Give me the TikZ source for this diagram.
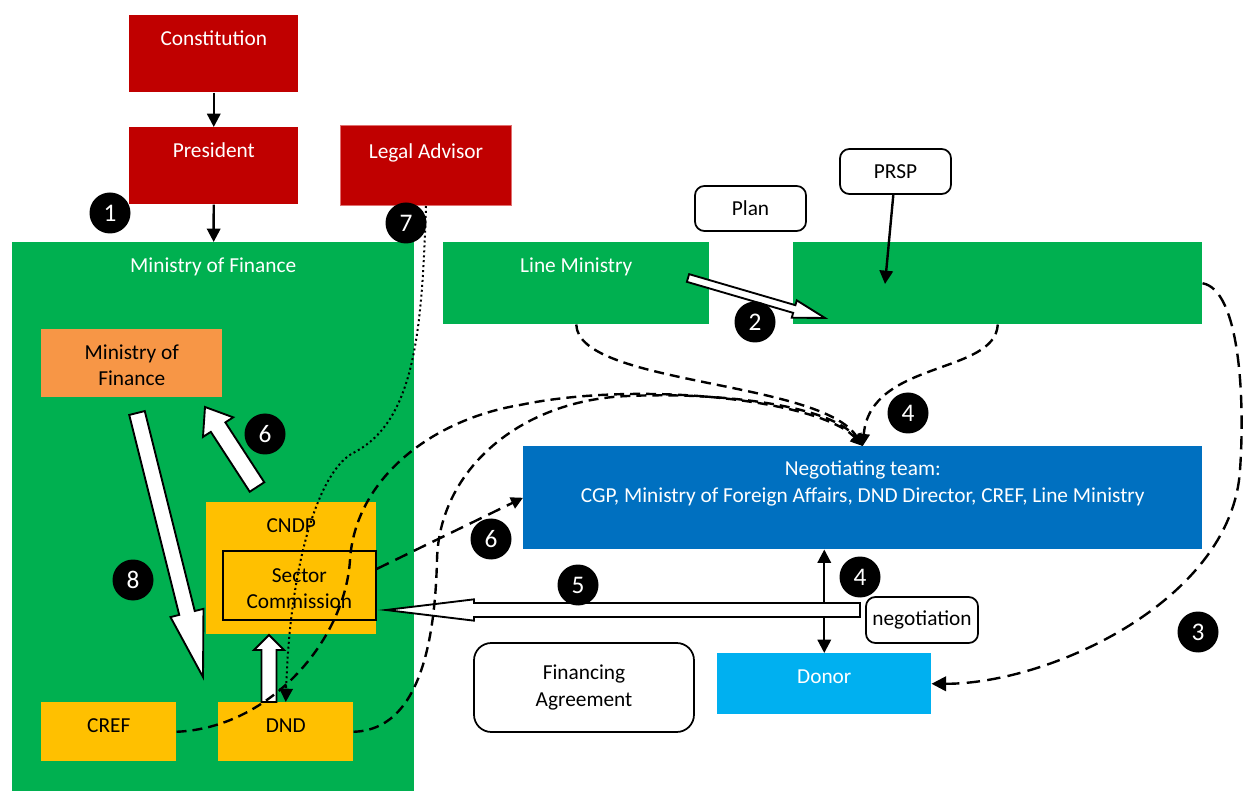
\documentclass[tikz,border=0pt]{standalone}
\usepackage{fontspec}
\setmainfont{Carlito}
\usepackage{tikz}
\usetikzlibrary{arrows.meta,calc,positioning}

\definecolor{boxred}{HTML}{C00000}
\definecolor{legalline}{HTML}{E07070}
\definecolor{boxgreen}{HTML}{00B050}
\definecolor{boxorange}{HTML}{F79646}
\definecolor{boxyellow}{HTML}{FFC000}
\definecolor{boxblue}{HTML}{0070C0}
\definecolor{boxsky}{HTML}{00B0F0}

\newcommand{\fatarrow}[5]{%
  \draw[fat] let \p1=(#1), \p2=(#2), \n1={atan2(\y2-\y1,\x2-\x1)}, \n2={veclen(\x2-\x1,\y2-\y1)-#5} in
    ($(\p1)+(\n1+90:#3)$) -- ($(\p1)+(\n1:\n2*1pt)+(\n1+90:#3)$) -- ($(\p1)+(\n1:\n2*1pt)+(\n1+90:#4)$) -- (\p2)
    -- ($(\p1)+(\n1:\n2*1pt)+(\n1-90:#4)$) -- ($(\p1)+(\n1:\n2*1pt)+(\n1-90:#3)$) -- ($(\p1)+(\n1-90:#3)$) -- cycle;}

\begin{document}
\begin{tikzpicture}[x=0.75pt,y=0.75pt,font=\fontsize{16}{19.5}\selectfont]
            \tikzstyle{box}=[rectangle, anchor=north west, inner sep=0pt, text height=22.5pt]
            \tikzstyle{note}=[rectangle, rounded corners=7pt, draw=black, line width=1.3pt, fill=white, align=center, inner sep=0pt]
            \tikzstyle{num}=[circle, fill=black, text=white, minimum size=30.75pt, inner sep=0pt, font=\fontsize{19}{22}\selectfont]
            \tikzstyle{connect}=[line width=1.8pt, -{Triangle[length=10pt,width=10pt]}]
            \tikzstyle{flow}=[line width=1.8pt, dash pattern=on 7.5pt off 4.5pt, -{Triangle[length=9pt,width=9pt]}]
            \tikzstyle{fat}=[draw=black, fill=white, line width=1.4pt, line join=miter]
            \useasboundingbox (0,0) rectangle (1243,-791);

            \node[box, fill=boxred, text=white, minimum width=126.75pt, text depth=35.25pt] (const) at (129,-15) {Constitution};
            \node[box, fill=boxred, text=white, minimum width=126.75pt, text depth=35.25pt] (pres) at (129,-127) {President};
            \node[box, fill=boxred, draw=legalline, line width=0.75pt, text=white, minimum width=128.25pt, text height=24.75pt, text depth=35.25pt] (legal) at (340,-125) {Legal Advisor};

            \node[box, fill=boxgreen, text=white, minimum width=301.5pt, text depth=389.25pt] (mof) at (12,-242) {Ministry of Finance};
            \node[box, fill=boxgreen, text=white, minimum width=199.5pt, text depth=39pt] (line) at (443,-242) {Line Ministry};
            \node[box, fill=boxgreen, minimum width=306.75pt, text depth=39pt] (sectorplan) at (793,-242) {};

            \node[box, fill=boxorange, minimum width=135.75pt, text depth=28.5pt] (mofin) at (41,-329) {\begin{tabular}[t]{@{}c@{}}Ministry of\\Finance\end{tabular}};
            \node[box, fill=boxyellow, minimum width=127.5pt, text depth=76.5pt] (cndp) at (206,-502) {CNDP};
            \node[box, fill=boxyellow, draw=black, line width=1.3pt, minimum width=114.75pt, text height=24pt, text depth=27.75pt] (sector) at (222,-550) {\begin{tabular}[t]{@{}c@{}}Sector\\Commission\end{tabular}};
            \node[box, fill=boxyellow, minimum width=101.25pt, text depth=21.75pt] (cref) at (41,-702) {CREF};
            \node[box, fill=boxyellow, minimum width=101.25pt, text depth=21.75pt] (dnd) at (218,-702) {DND};

            \node[box, fill=boxblue, text=white, minimum width=509.25pt, text height=21.75pt, text depth=55.5pt] (team) at (523,-446) {\begin{tabular}[t]{@{}c@{}}Negotiating team:\\[1pt]CGP, Ministry of Foreign Affairs, DND Director, CREF, Line Ministry\end{tabular}};
            \node[box, fill=boxsky, text=white, minimum width=160.5pt, text depth=23.25pt] (donor) at (717,-653) {Donor};

            \node[note, minimum width=83.25pt, minimum height=33.75pt] (plan) at (750.5,-208.5) {Plan};
            \node[note, minimum width=83.25pt, minimum height=33.75pt] (prsp) at (895.5,-171.5) {PRSP};
            \node[note, minimum width=84pt, minimum height=34.5pt] (nego) at (922,-620) {negotiation};
            \node[note, rounded corners=13pt, minimum width=165pt, minimum height=66.75pt] (finag) at (584,-687.5) {Financing\\[1pt]Agreement};

            \coordinate (prspend) at (885,-284);
            \coordinate (a2s) at (688,-278);
            \coordinate (a2e) at (825,-318);
            \coordinate (a5s) at (860,-610);
            \coordinate (a5e) at (386,-610);
            \coordinate (a8s) at (137,-413);
            \coordinate (a8e) at (203,-677);
            \coordinate (a6s) at (257,-487);
            \coordinate (a6e) at (205,-407);
            \coordinate (ups) at (269,-702);
            \coordinate (upe) at (269,-635);

            \path (const) edge [connect] (pres);
            \path (pres) edge [connect] (mof);
            \path (prsp) edge [connect] (prspend);
            \draw[connect, {Triangle[length=10pt,width=10pt]}-{Triangle[length=10pt,width=10pt]}] (donor.north) -- (donor.north |- team.south);

            \fatarrow{a2s}{a2e}{3pt}{6.75pt}{24pt}
            \fatarrow{a5s}{a5e}{5.25pt}{8pt}{66pt}
            \fatarrow{a8s}{a8e}{6pt}{12.75pt}{49.5pt}
            \fatarrow{a6s}{a6e}{6.5pt}{13.5pt}{18pt}
            \fatarrow{ups}{upe}{5.6pt}{11.25pt}{11.25pt}

            \draw[flow] (line.south) .. controls (578,-385) and (820,-380) .. (team.north);
            \draw[flow] (sectorplan.south) .. controls (995,-375) and (870,-360) .. (team.north);
            \draw[flow] (cref.east) .. controls (270,-728) and (345,-640) .. (350,-560)
                .. controls (355,-480) and (430,-420) .. (520,-405)
                .. controls (640,-380) and (820,-400) .. (team.north);
            \draw[flow] (dnd.east) .. controls (420,-730) and (435,-640) .. (437,-560)
                .. controls (439,-470) and (520,-400) .. (628,-396)
                .. controls (720,-392) and (830,-405) .. (team.north);
            \draw[flow, dash pattern=on 10pt off 5.5pt, -{Triangle[length=11pt,width=11pt]}] (sectorplan.east) .. controls (1240,-290) and (1245,-400) .. (1240,-470)
                .. controls (1232,-600) and (1050,-684) .. (donor.east);
            \draw[flow, dash pattern=on 10pt off 5.5pt] (sector.12) -- (team.west);
            \draw[line width=1.5pt, dash pattern=on 1.5pt off 2.2pt, -{Triangle[length=10pt,width=10pt]}] (legal.south) .. controls (422,-330) and (415,-420) .. (355,-452)
                .. controls (320,-468) and (290,-560) .. (dnd.north);

            \node[num] (n1) at (110,-213) {1};
            \node[num] (n7) at (406,-223) {7};
            \node[num] (n2) at (755,-322) {2};
            \node[num] (n4a) at (908,-413) {4};
            \node[num] (n6a) at (265,-434) {6};
            \node[num] (n8) at (133,-580) {8};
            \node[num] (n6b) at (491,-539) {6};
            \node[num] (n5) at (578,-585) {5};
            \node[num] (n4b) at (860,-577) {4};
            \node[num] (n3) at (1198,-632) {3};

        \end{tikzpicture}
\end{document}
